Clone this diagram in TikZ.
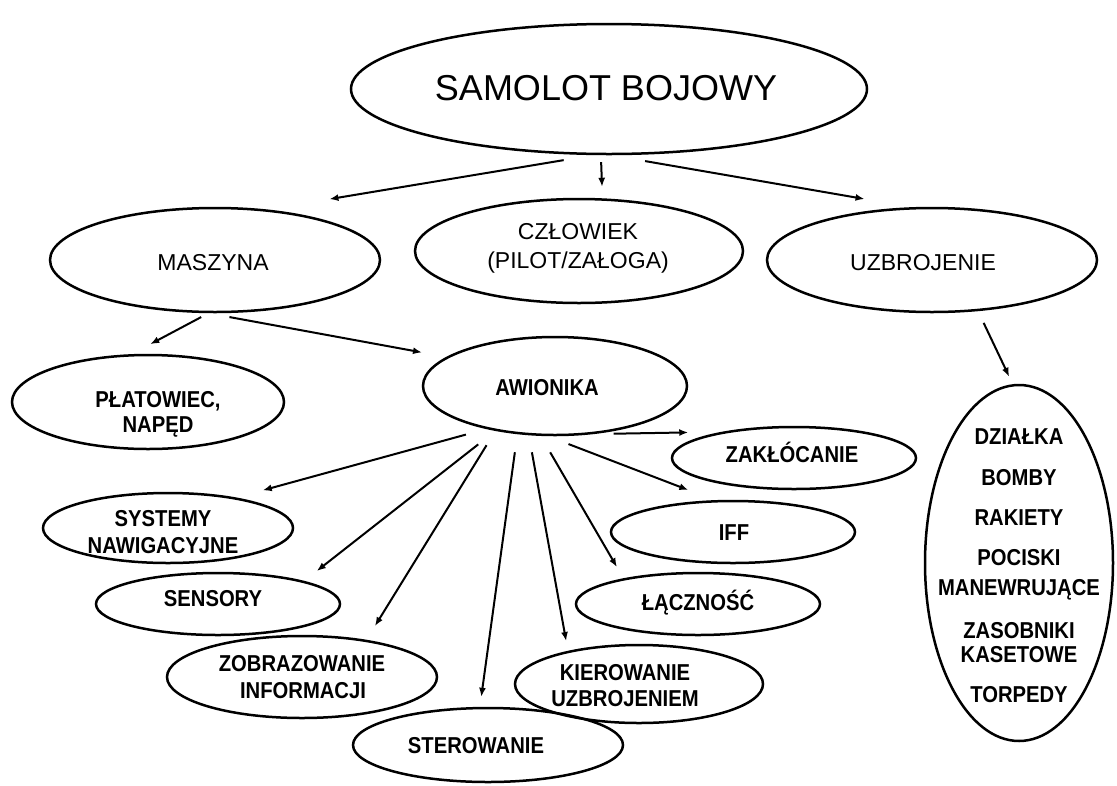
\documentclass[tikz,border=0pt]{standalone}
\usepackage{fontspec}
\setmainfont{Liberation Sans}
\newfontfamily\condfont[FakeStretch=0.88]{Liberation Sans}
\usetikzlibrary{arrows.meta,shapes.geometric}
\tikzset{
  ell/.style={draw, ellipse, line width=2.5pt, inner sep=0pt},
  arr/.style={line width=2pt, -{Latex[length=9pt,width=7pt]}},
  lbl/.style={anchor=base, inner sep=0pt, font=\condfont\fontsize{23}{26}\selectfont\bfseries},
  lblone/.style={anchor=base, inner sep=0pt, font=\fontsize{23}{27}\selectfont},
  lbltop/.style={anchor=base, inner sep=0pt, font=\fontsize{36}{40}\selectfont}
}
\begin{document}
\begin{tikzpicture}[x=1pt,y=-1pt]
\fill[white] (0,0) rectangle (1117,785);
\useasboundingbox (0,0) rectangle (1117,785);

% ellipses
\node[ell, minimum width=516pt, minimum height=130pt] (top) at (609,89) {};
\node[ell, minimum width=330pt, minimum height=104pt] (mas) at (215,260) {};
\node[ell, minimum width=328pt, minimum height=104pt] (czl) at (579,251) {};
\node[ell, minimum width=330pt, minimum height=104pt] (uzb) at (932,260) {};
\node[ell, minimum width=272pt, minimum height=94pt] (pla) at (148,402) {};
\node[ell, minimum width=264pt, minimum height=98pt] (awi) at (555,386) {};
\node[ell, minimum width=244pt, minimum height=62pt] (zak) at (794,458) {};
\node[ell, minimum width=250pt, minimum height=70pt] (sys) at (168,528) {};
\node[ell, minimum width=244pt, minimum height=62pt] (iff) at (733,532) {};
\node[ell, minimum width=244pt, minimum height=62pt] (sen) at (218,604) {};
\node[ell, minimum width=244pt, minimum height=62pt] (lac) at (698,604) {};
\node[ell, minimum width=270pt, minimum height=82pt] (zob) at (302,677) {};
\node[ell, minimum width=248pt, minimum height=78pt] (kie) at (639,684) {};
\node[ell, minimum width=270pt, minimum height=74pt] (ste) at (488,745) {};
\node[ell, minimum width=188pt, minimum height=356pt] (weap) at (1019,563) {};

% labels
\node[lbltop] (topT) at (606,100) {SAMOLOT BOJOWY};
\node[lblone] (masT) at (213,270) {MASZYNA};
\node[lblone] (czlT1) at (578,239) {CZŁOWIEK};
\node[lblone] (czlT2) at (578,268) {(PILOT/ZAŁOGA)};
\node[lblone] (uzbT) at (923,270) {UZBROJENIE};
\node[lbl] (plaT1) at (158,407) {PŁATOWIEC,};
\node[lbl] (plaT2) at (158,432) {NAPĘD};
\node[lbl] (awiT) at (547,395) {AWIONIKA};
\node[lbl] (zakT) at (792,462) {ZAKŁÓCANIE};
\node[lbl] (sysT1) at (163,526) {SYSTEMY};
\node[lbl] (sysT2) at (163,553) {NAWIGACYJNE};
\node[lbl] (iffT) at (734,540) {IFF};
\node[lbl] (senT) at (213,606) {SENSORY};
\node[lbl] (lacT) at (698,610) {ŁĄCZNOŚĆ};
\node[lbl] (zobT1) at (302,671) {ZOBRAZOWANIE};
\node[lbl] (zobT2) at (303,698) {INFORMACJI};
\node[lbl] (kieT1) at (625,680) {KIEROWANIE};
\node[lbl] (kieT2) at (625,706) {UZBROJENIEM};
\node[lbl] (steT) at (476,753) {STEROWANIE};
\node[lbl] (w1) at (1019,444) {DZIAŁKA};
\node[lbl] (w2) at (1019,485) {BOMBY};
\node[lbl] (w3) at (1019,525) {RAKIETY};
\node[lbl] (w4) at (1019,565) {POCISKI};
\node[lbl] (w5) at (1019,595) {MANEWRUJĄCE};
\node[lbl] (w6) at (1019,638) {ZASOBNIKI};
\node[lbl] (w7) at (1019,662) {KASETOWE};
\node[lbl] (w8) at (1019,702) {TORPEDY};

% connectors
\draw[arr, shorten <=30.5pt, shorten >=63pt] (top.257.9) -- (mas.44.8);
\draw[arr, shorten <=7pt, shorten >=11.5pt] (top.263) -- (czl.66.9);
\draw[arr, shorten <=34.3pt, shorten >=47.9pt] (top.-88.1) -- (uzb.111);
\draw[arr, shorten <=8.2pt, shorten >=21.2pt] (mas.263.6) -- (pla.109.5);
\draw[arr, shorten <=21.3pt, shorten >=24.8pt] (mas.263.5) -- (awi.165.3);
\draw[arr, shorten <=13pt, shorten >=8.3pt] (uzb.-48.3) -- (weap.92.8);
\draw[arr, shorten <=19.7pt, shorten >=33.8pt] (awi.-51.6) -- (zak.160.9);
\draw[arr, shorten <=21pt, shorten >=27.3pt] (awi.212.9) -- (sys.24.4);
\draw[arr, shorten <=21.8pt, shorten >=16.1pt] (awi.-143.8) -- (sen.15.9);
\draw[arr, shorten <=16.8pt, shorten >=16.1pt] (awi.-143.5) -- (zob.30.1);
\draw[arr, shorten <=18.2pt, shorten >=10.1pt] (awi.-128.6) -- (ste.102.8);
\draw[arr, shorten <=17.3pt, shorten >=10pt] (awi.-118.5) -- (kie.155.4);
\draw[arr, shorten <=18.9pt, shorten >=13pt] (awi.-106.6) -- (lac.161.4);
\draw[arr, shorten <=22pt, shorten >=28.1pt] (awi.-98.6) -- (iff.120.3);
\end{tikzpicture}
\end{document}
